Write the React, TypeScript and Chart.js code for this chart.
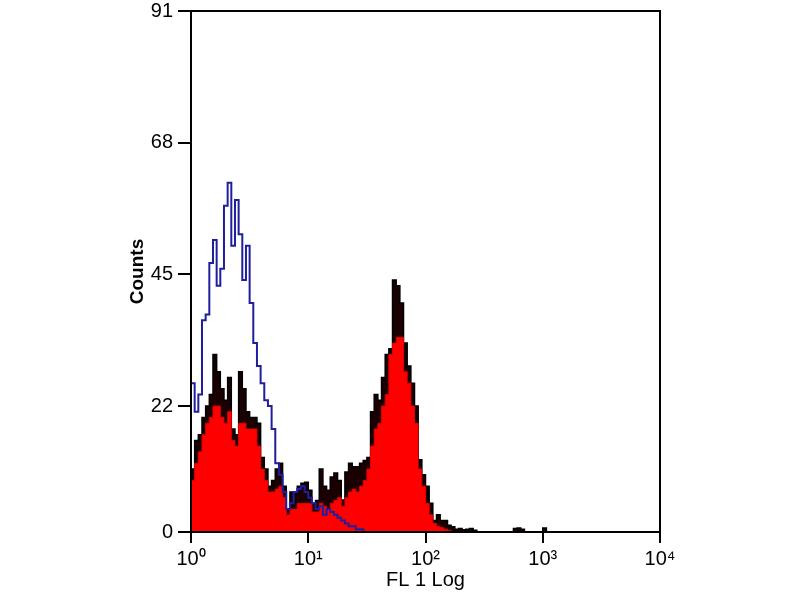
import React, { useEffect, useRef } from "react";
import { Chart, registerables } from "chart.js";

Chart.register(...registerables);

// Histogram channels: 32 channels per decade on the FL 1 log axis
const BINS_PER_DECADE = 32;

const X_TICKS = [1, 10, 100, 1000, 10000];
const X_TICK_LABELS = ["10⁰", "10¹", "10²", "10³", "10⁴"];
const Y_TICKS = [0, 22, 45, 68, 91];

// Blue outline histogram (counts per channel)
const BLUE_COUNTS = [
  26, 21, 24, 37, 38, 47, 51, 43, 46, 57, 61, 50, 58, 52, 44, 50, 40, 33, 29, 26,
  23, 22, 18, 12, 10, 7, 4, 5, 7, 7.5, 8, 7, 6, 5, 4, 4.5, 3, 4, 3.5, 3,
  2.5, 2, 1.5, 1, 1, 0.5, 0.5, 0,
];

// Black histogram (counts per channel)
const BLACK_COUNTS = [
  11, 16, 17, 20, 22, 24, 31, 28, 25, 23, 27, 18, 17, 28, 25, 21, 20, 20, 19, 13,
  11, 8, 9, 11, 12, 8, 4, 7, 7, 8, 8.5, 8.7, 7.3, 5, 5.5, 11, 8, 7.3, 9.6, 10.3,
  9, 5.6, 10.5, 12, 11.4, 11.4, 12, 12.5, 13, 21, 24, 23, 27, 31, 32, 44, 43, 40, 33, 29,
  26, 22, 12.6, 10, 8, 5, 2, 3, 2, 2, 1.2, 0.9, 0.5, 0.6, 0.4, 0.5, 0.6, 0.3, 0, 0,
  0, 0, 0, 0, 0, 0, 0, 0, 0.6, 0.7, 0.5, 0, 0, 0, 0, 0, 0.7, 0,
];

// Red filled histogram (counts per channel)
const RED_COUNTS = [
  9, 12, 14, 17, 19, 20, 22, 22, 20, 19, 21, 16, 15, 19, 19, 18, 18, 18, 15, 11,
  9, 7, 7, 7.5, 8, 6, 3, 4, 4, 5, 5, 5, 5, 3.5, 3.5, 5, 4.5, 4, 5, 5.5,
  6, 4.5, 6, 7, 7.5, 7, 8, 9, 11, 15, 18, 19, 22, 24, 31, 33, 34, 34, 28, 26,
  22, 19, 11, 8, 5, 3, 1.5, 1, 0.8, 0.5, 0.3, 0,
];

const toPoints = (vals: number[]) =>
  vals.map((v, i) => ({ x: Math.pow(10, i / BINS_PER_DECADE), y: v }));

const FONT = "'Liberation Sans', Arial, sans-serif";

const boxPlugin = {
  id: "boxPlugin",
  afterDatasetsDraw(chart: any) {
    const { ctx, chartArea } = chart;
    ctx.save();
    ctx.strokeStyle = "#000";
    ctx.lineWidth = 2;
    ctx.strokeRect(chartArea.left, chartArea.top, chartArea.right - chartArea.left, chartArea.bottom - chartArea.top);
    ctx.restore();
  },
};

export default function App() {
  const ref = useRef<HTMLCanvasElement | null>(null);

  useEffect(() => {
    document.body.style.margin = "0";
    const canvas = ref.current!;
    const chart = new Chart(canvas, {
      type: "line",
      data: {
        datasets: [
          {
            label: "blue",
            data: toPoints(BLUE_COUNTS),
            borderColor: "#1f1f9e",
            borderWidth: 2,
            fill: false,
            stepped: true,
            pointRadius: 0,
            order: 0,
          },
          {
            label: "red",
            data: toPoints(RED_COUNTS),
            borderColor: "#e00000",
            backgroundColor: "#ff0000",
            borderWidth: 1,
            fill: "origin",
            stepped: true,
            pointRadius: 0,
            order: 1,
          },
          {
            label: "black",
            data: toPoints(BLACK_COUNTS),
            borderColor: "#000",
            backgroundColor: "#1a0000",
            borderWidth: 1.5,
            fill: "origin",
            stepped: true,
            pointRadius: 0,
            order: 2,
          },
        ],
      },
      options: {
        responsive: false,
        animation: false,
        events: [],
        layout: { padding: { left: 100, right: 140, top: 11, bottom: 0 } },
        plugins: { legend: { display: false }, tooltip: { enabled: false } },
        scales: {
          x: {
            type: "logarithmic",
            min: 1,
            max: 10000,
            afterBuildTicks: (scale: any) => {
              scale.ticks = X_TICKS.map((v) => ({ value: v }));
            },
            afterFit: (scale: any) => {
              scale.height = 68;
              scale.paddingLeft = 0;
              scale.paddingRight = 0;
            },
            ticks: {
              color: "#000",
              font: { family: FONT, size: 20 },
              padding: 4,
              maxRotation: 0,
              autoSkip: false,
              callback: (v: any) => {
                const i = X_TICKS.indexOf(Number(v));
                return i >= 0 ? X_TICK_LABELS[i] : "";
              },
            },
            grid: { drawOnChartArea: false, drawTicks: true, tickLength: 11, color: "#000", lineWidth: 2 },
            border: { display: false },
            title: {
              display: true,
              text: "FL 1 Log",
              color: "#000",
              font: { family: FONT, size: 20 },
              padding: { top: 0, bottom: 8 },
            },
          },
          y: {
            type: "linear",
            min: 0,
            max: 91,
            afterBuildTicks: (scale: any) => {
              scale.ticks = Y_TICKS.map((v) => ({ value: v }));
            },
            afterFit: (scale: any) => {
              scale.width = 91;
              scale.paddingTop = 0;
              scale.paddingBottom = 0;
            },
            ticks: {
              color: "#000",
              font: { family: FONT, size: 20 },
              padding: 5,
              autoSkip: false,
            },
            grid: { drawOnChartArea: false, drawTicks: true, tickLength: 13, color: "#000", lineWidth: 2 },
            border: { display: false },
            title: {
              display: true,
              text: "Counts",
              color: "#000",
              font: { family: FONT, size: 19, weight: "bold" },
              padding: { top: 26, bottom: 0 },
            },
          },
        },
      },
      plugins: [boxPlugin],
    });
    return () => chart.destroy();
  }, []);

  return (
    <div style={{ position: "fixed", left: 0, top: 0, width: 800, height: 600, background: "#fff" }}>
      <canvas ref={ref} width={800} height={600} />
    </div>
  );
}
